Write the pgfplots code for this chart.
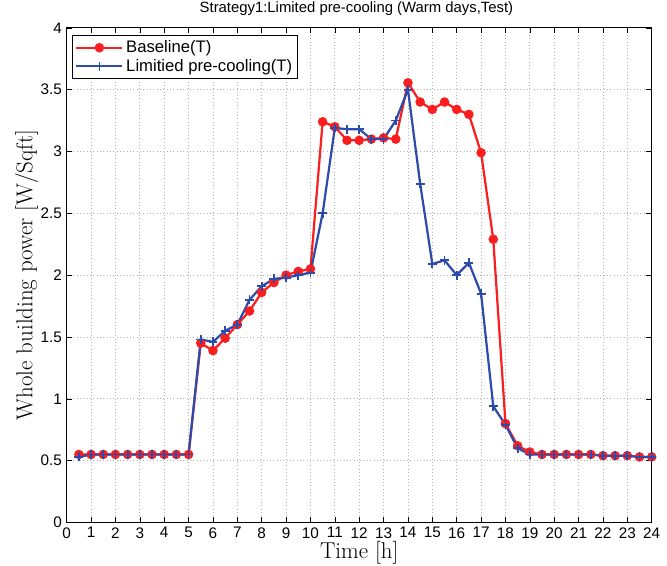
\documentclass[border=0pt]{standalone}
\usepackage{fontspec}
\setsansfont{Liberation Sans}
\usepackage{pgfplots}
\pgfplotsset{compat=1.18}
\definecolor{bred}{RGB}{250,30,30}
\definecolor{bblue}{RGB}{45,75,170}
\begin{document}
\begin{tikzpicture}
\useasboundingbox (-48pt,-31pt) rectangle (432pt,376pt);
\begin{axis}[
  at={(0,0)}, anchor=south west,
  scale only axis, width=421pt, height=356pt,
  xmin=0, xmax=24, ymin=0, ymax=4,
  xtick={0,1,...,24}, ytick={0,0.5,...,4},
  tick align=inside, major tick length=4pt,
  tick style={black, line width=0.4pt},
  xtick pos=both, ytick pos=both,
  grid=major,
  major grid style={gray!60, dotted, line width=0.5pt},
  axis line style={black, line width=0.6pt},
  /pgf/number format/assume math mode=true,
  tick label style={font=\sffamily\fontsize{11}{13}\selectfont},
  yticklabel style={/pgf/number format/fixed},
  xlabel={Time [h]},
  ylabel={Whole building power [W/Sqft]},
  label style={font=\fontsize{16.5}{19}\selectfont},
  xlabel style={at={(axis description cs:0.5,0)}, anchor=north, yshift=-10pt},
  ylabel style={at={(axis description cs:0,0.5)}, anchor=south, yshift=17pt},
  title={Strategy1:Limited pre-cooling (Warm days,Test)},
  title style={font=\sffamily\fontsize{10.7}{12}\selectfont, at={(axis description cs:0.5,1)}, anchor=base, yshift=5.3pt, xshift=-2pt},
  legend style={at={(axis description cs:0,1)}, anchor=north west, xshift=4pt, yshift=-5pt,
    font=\sffamily\fontsize{12}{14}\selectfont, draw=black, line width=0.5pt,
    row sep=-1pt, inner sep=2pt},
  legend cell align=left,
  legend image code/.code={
    \draw[#1] (0pt,0pt) -- (33pt,0pt);
    \draw[#1, only marks] plot coordinates {(16.5pt,0pt)};
  },
]
\addplot[color=bred, line width=1.6pt, mark=*, mark size=2.6pt, mark options={fill=bred, draw=bred}] coordinates {
(0.5,0.55)(1,0.55)(1.5,0.55)(2,0.55)(2.5,0.55)(3,0.55)(3.5,0.55)(4,0.55)(4.5,0.55)(5,0.55)
(5.5,1.45)(6,1.39)(6.5,1.49)(7,1.60)(7.5,1.71)(8,1.86)(8.5,1.94)(9,2.00)(9.5,2.03)(10,2.05)
(10.5,3.24)(11,3.20)(11.5,3.09)(12,3.09)(12.5,3.10)(13,3.11)(13.5,3.10)(14,3.555)
(14.5,3.40)(15,3.34)(15.5,3.40)(16,3.34)(16.5,3.30)(17,2.99)(17.5,2.29)(18,0.80)
(18.5,0.62)(19,0.57)(19.5,0.55)(20,0.55)(20.5,0.55)(21,0.55)(21.5,0.55)(22,0.54)
(22.5,0.54)(23,0.54)(23.5,0.53)(24,0.53)
};
\addlegendentry{Baseline(T)}
\addplot[color=bblue, line width=1.6pt, mark=+, mark size=3.2pt, mark options={line width=1.3pt}] coordinates {
(0.5,0.53)(1,0.55)(1.5,0.55)(2,0.55)(2.5,0.55)(3,0.55)(3.5,0.55)(4,0.55)(4.5,0.55)(5,0.55)
(5.5,1.48)(6,1.46)(6.5,1.55)(7,1.60)(7.5,1.80)(8,1.91)(8.5,1.97)(9,1.98)(9.5,2.00)(10,2.02)
(10.5,2.50)(11,3.19)(11.5,3.18)(12,3.18)(12.5,3.10)(13,3.10)(13.5,3.25)(14,3.50)
(14.5,2.74)(15,2.09)(15.5,2.12)(16,2.00)(16.5,2.10)(17,1.85)(17.5,0.94)(18,0.79)
(18.5,0.60)(19,0.55)(19.5,0.55)(20,0.55)(20.5,0.55)(21,0.55)(21.5,0.55)(22,0.54)
(22.5,0.54)(23,0.54)(23.5,0.53)(24,0.53)
};
\addlegendentry{Limitied pre-cooling(T)}
\end{axis}
\end{tikzpicture}
\end{document}
